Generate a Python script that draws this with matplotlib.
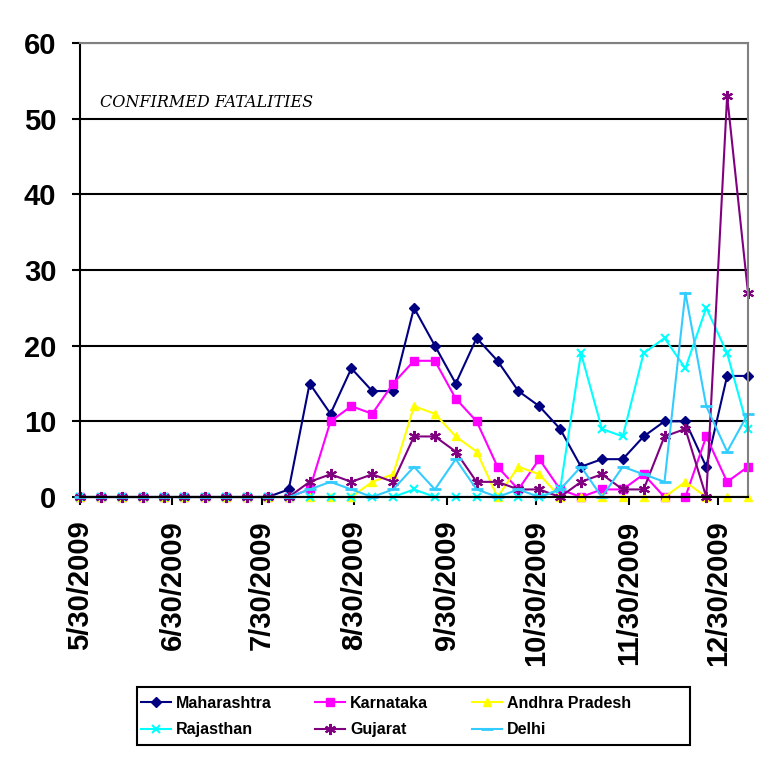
import numpy as np
import matplotlib
matplotlib.use("Agg")
import matplotlib.pyplot as plt
from matplotlib.patches import Rectangle

# weekly points, 5/30/2009 .. 1/9/2010
dates = np.arange(np.datetime64("2009-05-30"), np.datetime64("2010-01-10"), np.timedelta64(7, "D"))

maharashtra = [0, 0, 0, 0, 0, 0, 0, 0, 0, 0, 1, 15, 11, 17, 14, 14, 25, 20, 15, 21, 18,
               14, 12, 9, 4, 5, 5, 8, 10, 10, 4, 16, 16]
karnataka = [0, 0, 0, 0, 0, 0, 0, 0, 0, 0, 0, 1, 10, 12, 11, 15, 18, 18, 13, 10, 4,
             1, 5, 1, 0, 1, 1, 3, 0, 0, 8, 2, 4]
andhra = [0, 0, 0, 0, 0, 0, 0, 0, 0, 0, 0, 0, 0, 0, 2, 3, 12, 11, 8, 6, 0,
          4, 3, 0, 0, 0, 0, 0, 0, 2, 0, 0, 0]
rajasthan = [0, 0, 0, 0, 0, 0, 0, 0, 0, 0, 0, 0, 0, 0, 0, 0, 1, 0, 0, 0, 0,
             0, 0, 1, 19, 9, 8, 19, 21, 17, 25, 19, 9]
gujarat = [0, 0, 0, 0, 0, 0, 0, 0, 0, 0, 0, 2, 3, 2, 3, 2, 8, 8, 6, 2, 2,
           1, 1, 0, 2, 3, 1, 1, 8, 9, 0, 53, 27]
delhi = [0, 0, 0, 0, 0, 0, 0, 0, 0, 0, 0, 1, 2, 1, 0, 1, 4, 1, 5, 1, 0,
         1, 0, 1, 4, 0, 4, 3, 2, 27, 12, 6, 11]

tick_dates = np.array(["2009-05-30", "2009-06-30", "2009-07-30", "2009-08-30",
                       "2009-09-30", "2009-10-30", "2009-11-30", "2009-12-30"], dtype="datetime64[D]")
tick_labels = ["5/30/2009", "6/30/2009", "7/30/2009", "8/30/2009",
               "9/30/2009", "10/30/2009", "11/30/2009", "12/30/2009"]

plt.rcParams["font.family"] = ["Liberation Sans", "DejaVu Sans"]

fig = plt.figure(figsize=(7.84, 7.77), dpi=100)
ax = fig.add_axes([80/784, 1 - 497/777, 668/784, 454/777])

series = [
    ("Maharashtra", maharashtra, "#000080", dict(marker="D", ms=5.5)),
    ("Karnataka", karnataka, "#FF00FF", dict(marker="s", ms=6)),
    ("Andhra Pradesh", andhra, "#FFFF00", dict(marker="^", ms=5.5)),
    ("Rajasthan", rajasthan, "#00FFFF", dict(marker="x", ms=6, mew=1.5)),
    ("Gujarat", gujarat, "#800080", dict(marker=(6, 2, 0), ms=8, mew=1.5)),
    ("Delhi", delhi, "#33CCFF", dict(marker="_", ms=8, mew=2)),
]
lines = []
for name, vals, col, mk in series:
    ln, = ax.plot(dates, vals, color=col, lw=1.5, label=name, clip_on=False,
                  markerfacecolor=col, markeredgecolor=col, **mk)
    lines.append(ln)

ax.set_ylim(0, 60)
ax.set_yticks(range(0, 61, 10))
ax.set_xlim(dates[0], dates[-1])
ax.set_xticks(tick_dates)
ax.set_xticklabels(tick_labels, rotation=90, ha="center", va="top")

ax.grid(axis="y", color="black", lw=1.5)
ax.set_axisbelow(True)
for s in ["left", "bottom"]:
    ax.spines[s].set_color("black")
    ax.spines[s].set_linewidth(1.5)
for s in ["top", "right"]:
    ax.spines[s].set_color("#808080")
    ax.spines[s].set_linewidth(1.5)

ax.tick_params(axis="both", direction="out", length=6, width=1.5, color="black",
               labelsize=21, pad=11)
for lab in ax.get_xticklabels() + ax.get_yticklabels():
    lab.set_fontweight("bold")

ax.text(0.03, 0.868, "CONFIRMED FATALITIES", transform=ax.transAxes,
        family="DejaVu Serif", style="italic", fontsize=11.5, va="center", ha="left")

# legend fills by column, so reorder to read row by row
order = [0, 3, 1, 4, 2, 5]
leg = fig.legend([lines[i] for i in order], [series[i][0] for i in order],
                 loc="upper left", bbox_to_anchor=(141/784, 1 - 696/777), ncol=3,
                 frameon=False, borderpad=0, borderaxespad=0, handlelength=1.9,
                 handletextpad=0.3, columnspacing=2.7, labelspacing=0.7,
                 prop={"weight": "bold", "size": 11.5})
fig.patches.append(Rectangle((137/784, 1 - 745/777), 553/784, 58/777, transform=fig.transFigure,
                             fill=False, edgecolor="black", lw=1.5))

fig.savefig("out.png", dpi=100, facecolor="white")
